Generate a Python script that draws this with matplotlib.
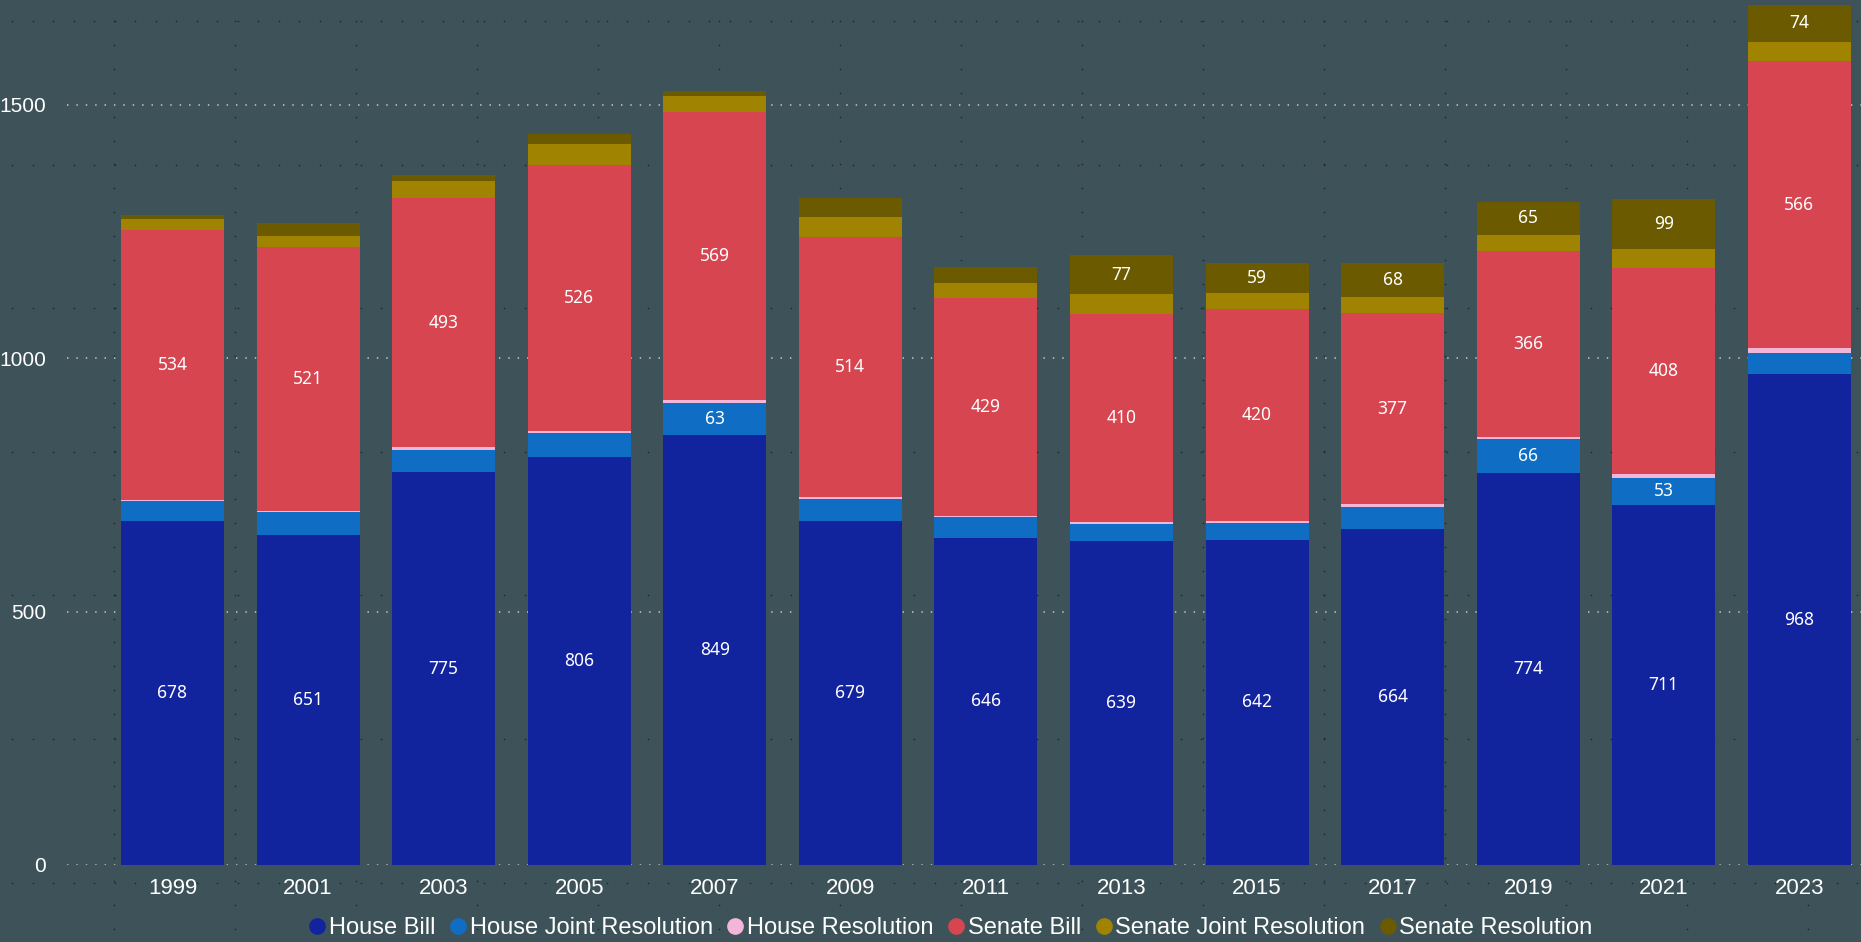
import numpy as np
import matplotlib.pyplot as plt
from matplotlib.lines import Line2D

years = ['1999', '2001', '2003', '2005', '2007', '2009', '2011',
         '2013', '2015', '2017', '2019', '2021', '2023']
house_bill = [678, 651, 775, 806, 849, 679, 646, 639, 642, 664, 774, 711, 968]
house_joint_res = [41, 45, 44, 46, 63, 44, 40, 33, 32, 43, 66, 53, 43]
house_res = [1, 2, 5, 4, 5, 3, 3, 5, 4, 5, 5, 7, 9]
senate_bill = [534, 521, 493, 526, 569, 514, 429, 410, 420, 377, 366, 408, 566]
senate_joint_res = [20, 23, 33, 41, 32, 39, 31, 39, 31, 31, 33, 36, 38]
senate_res = [8, 24, 11, 20, 9, 38, 32, 77, 59, 68, 65, 99, 74]

names = ['House Bill', 'House Joint Resolution', 'House Resolution',
         'Senate Bill', 'Senate Joint Resolution', 'Senate Resolution']
colors = ['#12239E', '#0F6DC3', '#F4B6D8', '#D64550', '#A08300', '#6B5A00']
series = [house_bill, house_joint_res, house_res,
          senate_bill, senate_joint_res, senate_res]

bg = '#3E5359'
W, H = 1861, 942

fig = plt.figure(figsize=(W / 100, H / 100), dpi=100, facecolor=bg)

# faint canvas dot pattern behind everything
bgax = fig.add_axes([0, 0, 1, 1], zorder=-1)
bgax.set_xlim(0, W)
bgax.set_ylim(H, 0)
bgax.axis('off')
for yy in np.arange(21, H, 143.6):
    xs = np.arange(12, W, 20.5)
    bgax.scatter(xs, np.full_like(xs, yy), s=1.5, color='#1E2B2F', lw=0)
for xx in np.arange(114, W, 121):
    ys = np.arange(21, H, 23.9)
    bgax.scatter(np.full_like(ys, xx), ys, s=1.5, color='#1E2B2F', lw=0)

ax = fig.add_axes([67 / W, 77 / H, (W - 67) / W, 865 / H])
ax.patch.set_alpha(0)

x = np.arange(len(years))
bottom = np.zeros(len(years))
for vals, name, c in zip(series, names, colors):
    vals = np.array(vals)
    ax.bar(x, vals, width=0.76, bottom=bottom, color=c, label=name, zorder=2)
    for i, v in enumerate(vals):
        if v >= 50:
            ax.text(x[i], bottom[i] + v / 2, str(v), ha='center', va='center',
                    color='white', fontsize=12.5, family='Noto Sans', zorder=3)
    bottom += vals

ax.set_xlim(-0.778, 12.455)
ax.set_ylim(0, 1707)
ax.set_yticks([0, 500, 1000, 1500])
ax.set_xticks(x)
ax.set_xticklabels(years)
ax.tick_params(length=0, labelcolor='white')
ax.tick_params(axis='y', pad=15, labelsize=15)
ax.tick_params(axis='x', pad=9, labelsize=16)
for lab in ax.get_xticklabels() + ax.get_yticklabels():
    lab.set_family('Liberation Sans')
for s in ax.spines.values():
    s.set_visible(False)
ax.set_axisbelow(True)
ax.yaxis.grid(True, color='#AEB8BB', linestyle=(0, (0.8, 4.4)), lw=1.3)

handles = [Line2D([], [], marker='o', ls='', color=c, markersize=11) for c in colors]
fig.legend(handles, names, loc='center', bbox_to_anchor=(0.5103, 0.0149),
           ncol=6, frameon=False, handletextpad=0.05, columnspacing=0.5,
           handlelength=0.9, prop={'family': 'Liberation Sans', 'size': 17},
           labelcolor='white')

fig.savefig('out.png', dpi=100, facecolor=bg)
